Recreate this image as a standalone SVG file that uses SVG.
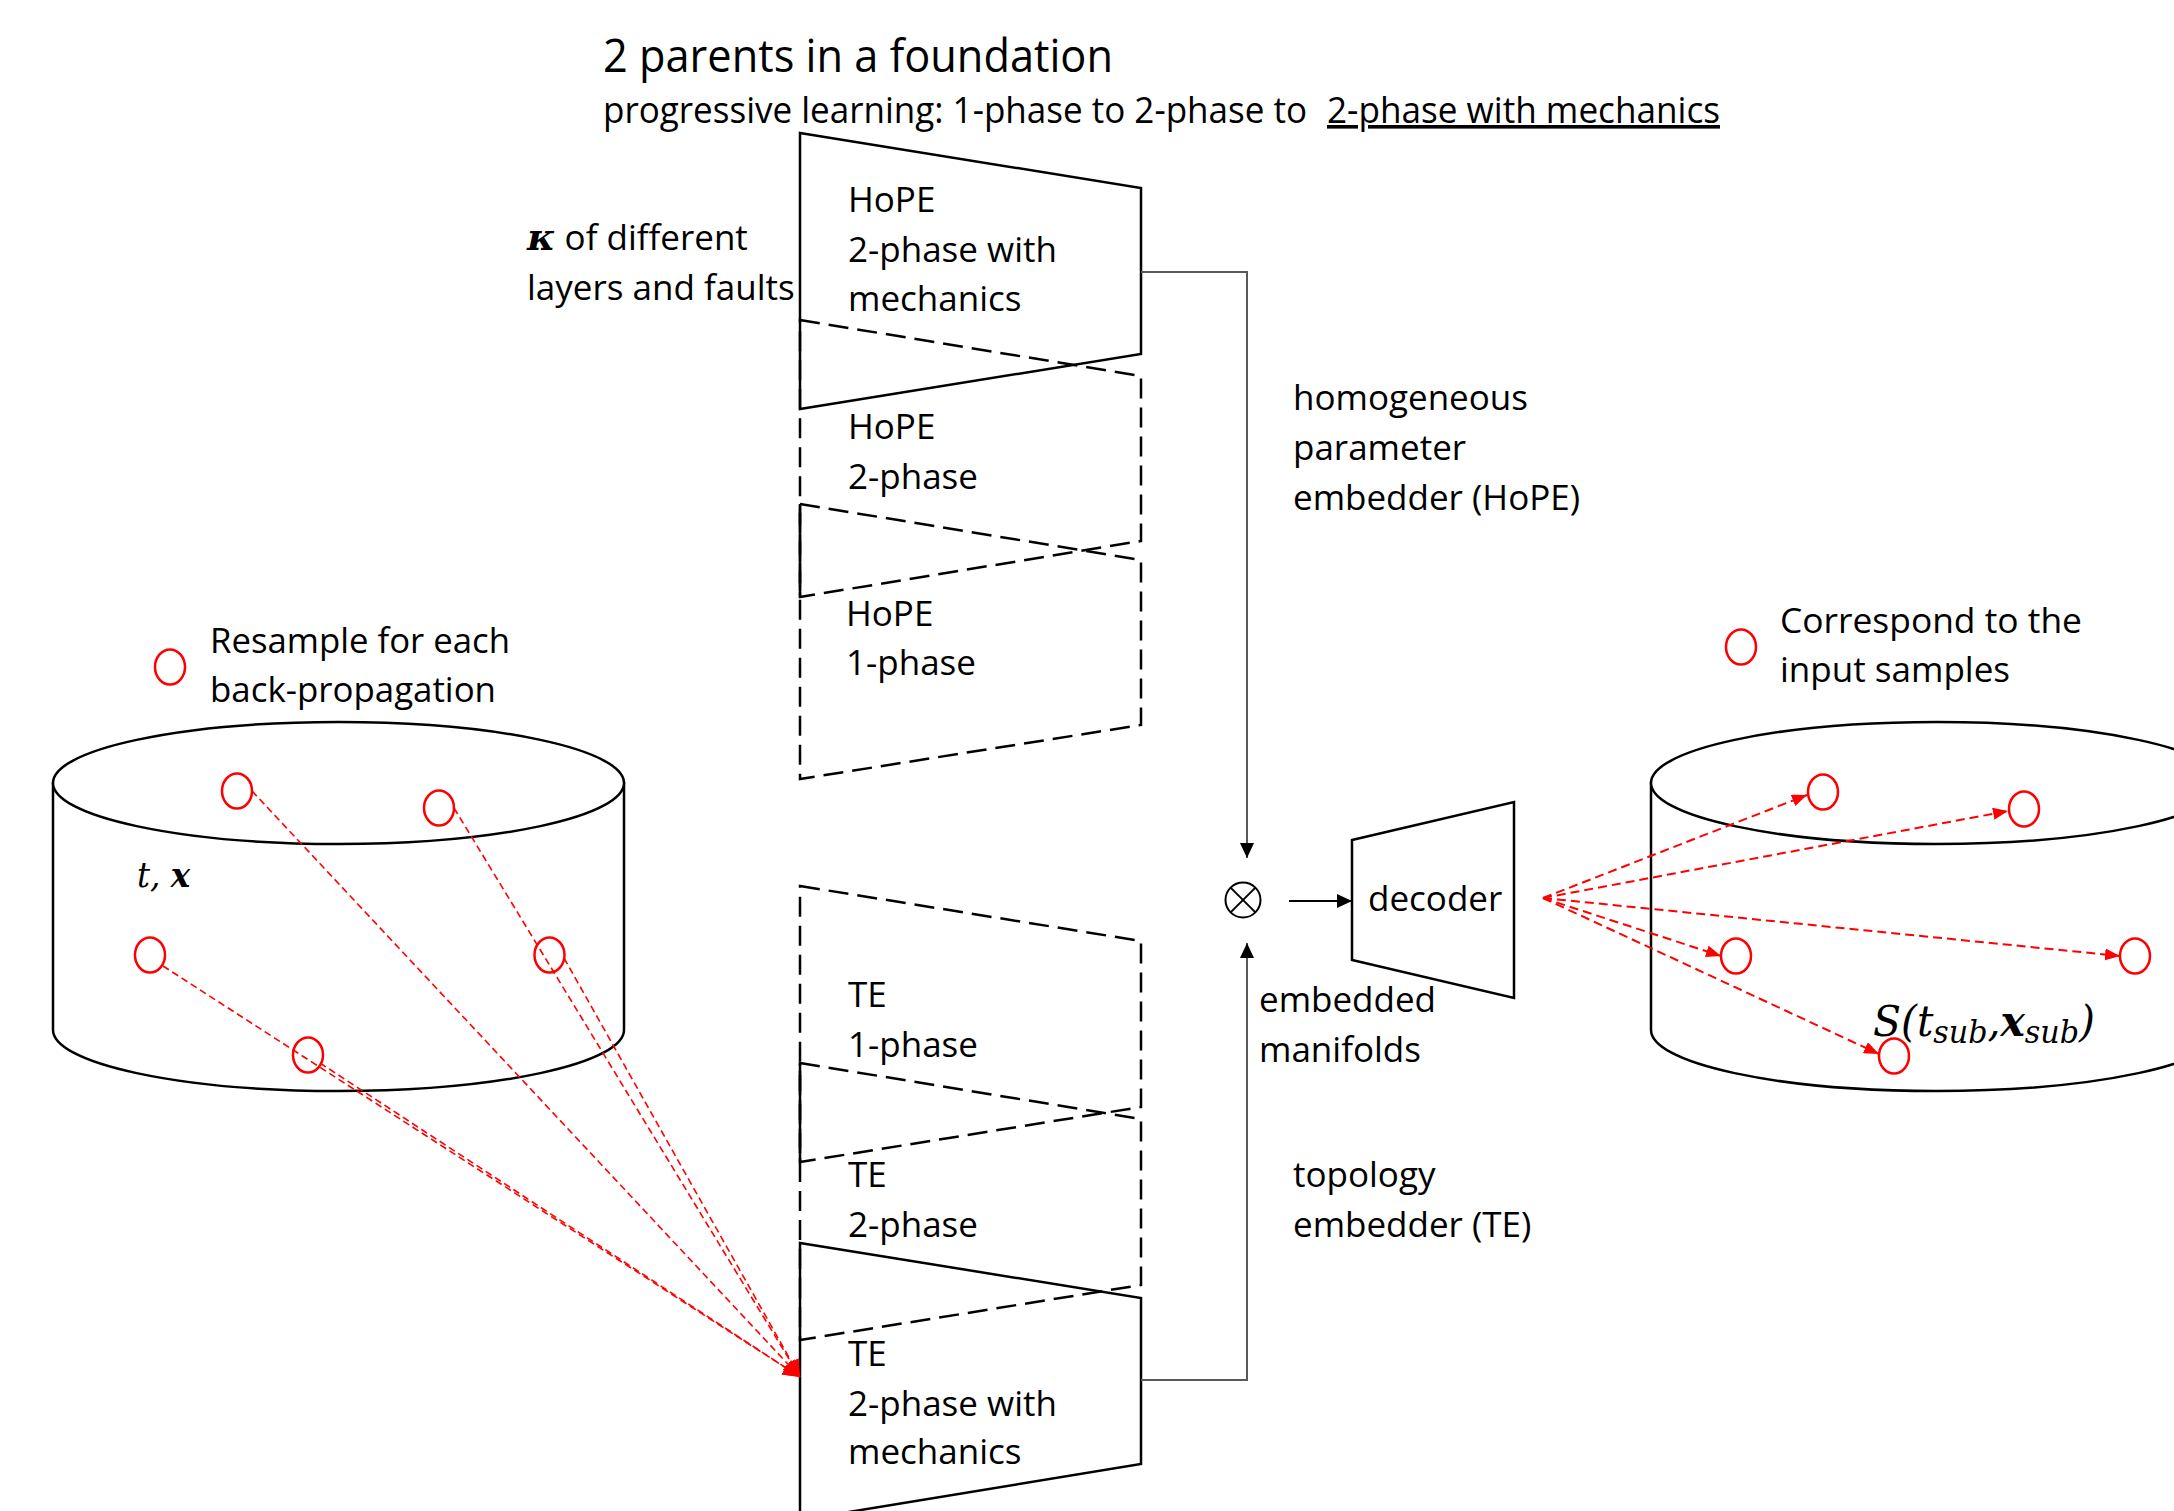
<svg xmlns="http://www.w3.org/2000/svg" width="2174" height="1511" viewBox="0 0 2174 1511">
<style>
.lbl{font-family:"Open Sans","Noto Sans",sans-serif;font-size:35px;fill:#000}
.cal{font-family:"Open Sans","Noto Sans",sans-serif;fill:#000}
.math{font-family:"DejaVu Serif","Liberation Serif",serif;font-style:italic;fill:#000}
.solid{fill:none;stroke:#000;stroke-width:2.5;stroke-linejoin:miter}
.dash{fill:none;stroke:#000;stroke-width:2.5;stroke-dasharray:20 9}
.cyl{fill:#fff;stroke:#000;stroke-width:2.5}
.rc{fill:none;stroke:#f00;stroke-width:2.5}
.redl{fill:none;stroke:#f00;stroke-width:1.6;stroke-dasharray:7 4}
.redr{fill:none;stroke:#f00;stroke-width:2;stroke-dasharray:9 5}
.conn{fill:none;stroke:#595959;stroke-width:2}
</style>
<defs>
<marker id="ab" markerUnits="userSpaceOnUse" markerWidth="16" markerHeight="14" refX="15" refY="7" orient="auto"><path d="M0,0 L15,7 L0,14 z" fill="#000"/></marker>
<marker id="ar" markerUnits="userSpaceOnUse" markerWidth="16" markerHeight="12" refX="15" refY="6" orient="auto"><path d="M0,0 L15,6 L0,12 z" fill="#f00"/></marker>
<marker id="arl" markerUnits="userSpaceOnUse" markerWidth="18" markerHeight="16" refX="17" refY="8" orient="auto"><path d="M0,0 L17,8 L0,16 z" fill="#f00"/></marker>
</defs>
<rect width="2174" height="1511" fill="#fff"/>

<g id="title">
<text class="cal" x="603" y="72" font-size="46" textLength="510" lengthAdjust="spacingAndGlyphs">2 parents in a foundation</text>
<text class="cal" x="603" y="123" font-size="36" textLength="704" lengthAdjust="spacingAndGlyphs">progressive learning: 1-phase to 2-phase to</text>
<text class="cal" x="1327" y="123" font-size="36" textLength="393" lengthAdjust="spacingAndGlyphs" text-decoration="underline">2-phase with mechanics</text>
</g>

<g id="input-cylinder">
<path class="cyl" d="M53,783 L53,1030 A285.5,61 0 0 0 624,1030 L624,783 Z"/>
<ellipse class="cyl" cx="338.5" cy="783" rx="285.5" ry="61"/>
<text class="math" x="137" y="887" font-size="36" textLength="53" lengthAdjust="spacingAndGlyphs">t, <tspan font-weight="bold">x</tspan></text>
<ellipse class="rc" cx="237" cy="791" rx="15" ry="17.5"/>
<ellipse class="rc" cx="439" cy="808" rx="15" ry="17.5"/>
<ellipse class="rc" cx="150" cy="955" rx="15" ry="17.5"/>
<ellipse class="rc" cx="549.5" cy="955" rx="15" ry="17.5"/>
<ellipse class="rc" cx="308" cy="1055" rx="15" ry="17.5"/>
</g>

<g id="legend-resample">
<ellipse class="rc" cx="170" cy="667" rx="15" ry="17.5"/>
<text class="cal" x="210" y="653" font-size="35" textLength="300" lengthAdjust="spacingAndGlyphs">Resample for each</text>
<text class="cal" x="210" y="702" font-size="35" textLength="286" lengthAdjust="spacingAndGlyphs">back-propagation</text>
</g>

<g id="output-cylinder">
<path class="cyl" d="M1651,783 L1651,1030 A285.5,61 0 0 0 2222,1030 L2222,783 Z"/>
<ellipse class="cyl" cx="1936.5" cy="783" rx="285.5" ry="61"/>
<ellipse class="rc" cx="1823" cy="792" rx="15" ry="17.5"/>
<ellipse class="rc" cx="2024" cy="809" rx="15" ry="17.5"/>
<ellipse class="rc" cx="1736" cy="956" rx="15" ry="17.5"/>
<ellipse class="rc" cx="2135" cy="956" rx="15" ry="17.5"/>
<ellipse class="rc" cx="1894" cy="1056" rx="15" ry="17.5"/>
<text class="math" x="1873" y="1036" font-size="42" textLength="222" lengthAdjust="spacingAndGlyphs">S(t<tspan font-size="31" dy="7">sub</tspan><tspan dy="-7">,</tspan><tspan font-weight="bold">x</tspan><tspan font-size="31" dy="7">sub</tspan><tspan dy="-7">)</tspan></text>
</g>

<g id="legend-correspond">
<ellipse class="rc" cx="1741" cy="647" rx="15" ry="17.5"/>
<text class="cal" x="1780" y="633" font-size="35" textLength="302" lengthAdjust="spacingAndGlyphs">Correspond to the</text>
<text class="cal" x="1780" y="682" font-size="35" textLength="230" lengthAdjust="spacingAndGlyphs">input samples</text>
</g>

<g id="kappa-label">
<text class="lbl" x="527" y="250"><tspan font-family="DejaVu Serif, Liberation Serif, serif" font-style="italic" font-weight="bold" font-size="38">κ</tspan> of different</text>
<text class="lbl" x="527" y="300">layers and faults</text>
</g>

<g id="hope-3">
<path class="dash" d="M800,504 L1141,560 L1141,725 L800,779 Z"/>
<line class="solid" x1="800" y1="504" x2="800" y2="597"/>
<text class="lbl" x="846" y="626">HoPE</text>
<text class="lbl" x="846" y="675">1-phase</text>
</g>
<g id="hope-2">
<path class="dash" d="M800,320 L1141,376 L1141,541 L800,597 Z"/>
<text class="lbl" x="848" y="439">HoPE</text>
<text class="lbl" x="848" y="489">2-phase</text>
</g>
<g id="hope-1">
<path class="solid" d="M800,133 L1141,188 L1141,354 L800,409 Z"/>
<text class="lbl" x="848" y="212">HoPE</text>
<text class="lbl" x="848" y="262">2-phase with</text>
<text class="lbl" x="848" y="311">mechanics</text>
</g>

<g id="te-1">
<path class="dash" d="M800,886 L1141,941 L1141,1107 L800,1162 Z"/>
<text class="lbl" x="848" y="1007">TE</text>
<text class="lbl" x="848" y="1057">1-phase</text>
</g>
<g id="te-2">
<path class="dash" d="M800,1063 L1141,1119 L1141,1285 L800,1340 Z"/>
<line class="solid" x1="800" y1="1063" x2="800" y2="1162"/>
<text class="lbl" x="848" y="1187">TE</text>
<text class="lbl" x="848" y="1237">2-phase</text>
</g>
<g id="te-3">
<path class="solid" d="M800,1243 L1141,1298 L1141,1464 L800,1520 Z"/>
<text class="lbl" x="848" y="1366">TE</text>
<text class="lbl" x="848" y="1416">2-phase with</text>
<text class="lbl" x="848" y="1464">mechanics</text>
</g>

<g id="hope-label">
<text class="lbl" x="1293" y="410">homogeneous</text>
<text class="lbl" x="1293" y="460">parameter</text>
<text class="lbl" x="1293" y="510">embedder (HoPE)</text>
</g>
<g id="te-label">
<text class="lbl" x="1293" y="1187">topology</text>
<text class="lbl" x="1293" y="1237">embedder (TE)</text>
</g>
<g id="manifold-label">
<text class="lbl" x="1259" y="1012">embedded</text>
<text class="lbl" x="1259" y="1062">manifolds</text>
</g>

<g id="multiply">
<circle cx="1243" cy="900" r="17.5" fill="none" stroke="#000" stroke-width="2"/>
<line x1="1230.6" y1="887.6" x2="1255.4" y2="912.4" stroke="#000" stroke-width="2"/>
<line x1="1255.4" y1="887.6" x2="1230.6" y2="912.4" stroke="#000" stroke-width="2"/>
</g>

<g id="decoder">
<path class="solid" d="M1352,840 L1514,802 L1514,998 L1352,960 Z"/>
<text class="lbl" x="1368" y="911">decoder</text>
</g>

<g id="connectors">
<path class="conn" d="M1141,272 L1247,272 L1247,858" marker-end="url(#ab)"/>
<path class="conn" d="M1141,1380 L1247,1380 L1247,943" marker-end="url(#ab)"/>
<line x1="1289" y1="901" x2="1352" y2="901" stroke="#000" stroke-width="2" marker-end="url(#ab)"/>
<line class="redl" x1="252" y1="791" x2="800" y2="1377" marker-end="url(#arl)"/>
<line class="redl" x1="454" y1="808" x2="800" y2="1377" marker-end="url(#arl)"/>
<line class="redl" x1="564" y1="958" x2="800" y2="1377" marker-end="url(#arl)"/>
<line class="redl" x1="163" y1="966" x2="800" y2="1377" marker-end="url(#arl)"/>
<line class="redl" x1="320" y1="1063" x2="800" y2="1377" marker-end="url(#arl)"/>
<line class="redr" x1="1543" y1="898" x2="1807" y2="795" marker-end="url(#ar)"/>
<line class="redr" x1="1543" y1="898" x2="2008" y2="811" marker-end="url(#ar)"/>
<line class="redr" x1="1543" y1="898" x2="1721" y2="956" marker-end="url(#ar)"/>
<line class="redr" x1="1543" y1="898" x2="2120" y2="956" marker-end="url(#ar)"/>
<line class="redr" x1="1543" y1="898" x2="1879" y2="1054" marker-end="url(#ar)"/>
</g>
</svg>
